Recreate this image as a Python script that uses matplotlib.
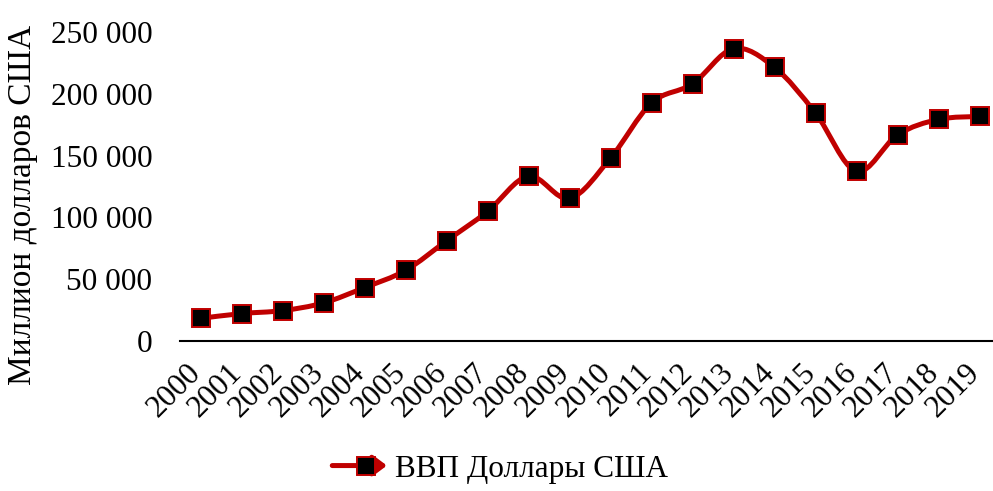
import matplotlib
matplotlib.use("Agg")
import matplotlib.pyplot as plt
import numpy as np
from matplotlib.path import Path
from matplotlib.patches import PathPatch, FancyArrowPatch
from matplotlib.lines import Line2D
from matplotlib.legend_handler import HandlerBase
from matplotlib.ticker import FuncFormatter
from matplotlib.transforms import ScaledTranslation

years = ["2000", "2001", "2002", "2003", "2004", "2005", "2006", "2007", "2008", "2009",
         "2010", "2011", "2012", "2013", "2014", "2015", "2016", "2017", "2018", "2019"]
gdp = [18300, 22200, 24600, 30800, 43200, 57100, 81000, 104800, 133400, 115300,
       148000, 192600, 208000, 236600, 221400, 184400, 137300, 166800, 179300, 181700]
series_label = "ВВП Доллары США"
ylabel = "Миллион долларов США"

RED = "#C00000"
plt.rcParams["font.family"] = ["Liberation Serif", "DejaVu Serif"]
FS = 22.5

fig = plt.figure(figsize=(9.93, 4.91), dpi=100)
ax = fig.add_axes([180 / 993, 1 - 341 / 491, 820 / 993, (341 - 32) / 491])

x = np.arange(len(years), dtype=float)
y = np.array(gdp, dtype=float)

# smoothed line (Catmull-Rom -> cubic Bezier), like spreadsheet "smoothed line"
P = np.column_stack([x, y])
Pext = np.vstack([P[0], P, P[-1]])
verts = [tuple(P[0])]
codes = [Path.MOVETO]
for i in range(len(P) - 1):
    p0, p1, p2, p3 = Pext[i], Pext[i + 1], Pext[i + 2], Pext[i + 3]
    c1 = p1 + (p2 - p0) / 6.0
    c2 = p2 - (p3 - p1) / 6.0
    verts += [tuple(c1), tuple(c2), tuple(p2)]
    codes += [Path.CURVE4] * 3
ax.add_patch(PathPatch(Path(verts, codes), transform=ax.transData, fill=False,
                       edgecolor=RED, lw=3.6, capstyle="round", joinstyle="round", zorder=2))
# arrowhead at the end of the line
ax.annotate("", xy=(x[-1], y[-1]), xytext=(x[-1] - 0.35, y[-1] - 400),
            arrowprops=dict(arrowstyle="-|>,head_length=0.6,head_width=0.35",
                            color=RED, lw=0, shrinkA=0, shrinkB=0), zorder=2)

ax.plot(x, y, linestyle="none", marker="s", ms=13.5, mfc="black", mec=RED, mew=1.4, zorder=3)

ax.set_xlim(-0.5, len(years) - 0.5)
ax.set_ylim(0, 250000)
ax.set_yticks(np.arange(0, 250001, 50000))
ax.yaxis.set_major_formatter(FuncFormatter(lambda v, p: f"{int(v):,}".replace(",", " ")))
ax.set_xticks(x)
ax.set_xticklabels(years, rotation=45, ha="right", va="center", rotation_mode="anchor")
ax.tick_params(axis="both", length=0, labelsize=FS)
ax.tick_params(axis="y", pad=20)
ax.tick_params(axis="x", pad=20)
offset = ScaledTranslation(-4 / 100, 0, fig.dpi_scale_trans)
for lab in ax.get_xticklabels():
    lab.set_transform(lab.get_transform() + offset)
for s in ["left", "right", "top"]:
    ax.spines[s].set_visible(False)
ax.spines["bottom"].set_linewidth(1.5)
ax.set_ylabel(ylabel, fontsize=24)
ax.yaxis.set_label_coords(-142 / 820, 0.44)


class ArrowLineHandler(HandlerBase):
    def create_artists(self, legend, orig_handle, xdescent, ydescent, width, height, fontsize, trans):
        yc = height / 2 - ydescent
        arr = FancyArrowPatch((-xdescent, yc), (-xdescent + width, yc),
                              arrowstyle="-|>,head_length=8,head_width=6",
                              color=RED, lw=3.6, shrinkA=0, shrinkB=0, mutation_scale=1,
                              transform=trans)
        mk = Line2D([-xdescent + width * 0.62], [yc], linestyle="none", marker="s", ms=13.5,
                    mfc="black", mec=RED, mew=1.4, transform=trans)
        return [arr, mk]


h = Line2D([], [], color=RED)
fig.legend([h], [series_label], handler_map={Line2D: ArrowLineHandler()},
           loc="center", bbox_to_anchor=(500 / 993, 1 - 469 / 491), frameon=False,
           fontsize=FS, handlelength=1.75, handletextpad=0.25)

fig.savefig("out.png", dpi=100)
